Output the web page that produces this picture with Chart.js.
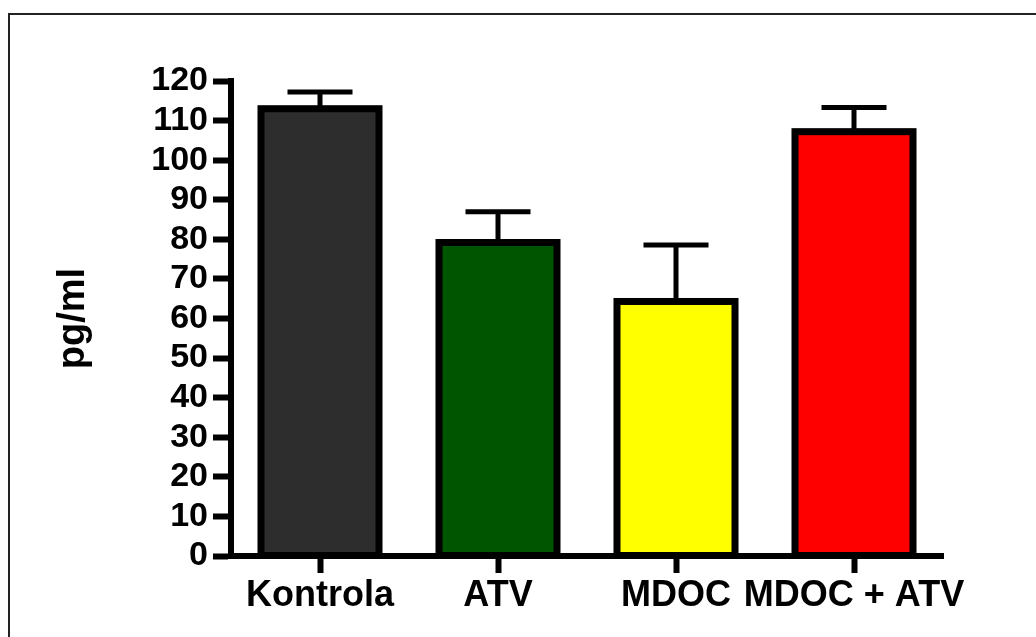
<!DOCTYPE html>
<html>
<head>
<meta charset="utf-8">
<script src="https://cdn.jsdelivr.net/npm/chart.js@4"></script>
<style>
  html, body { margin: 0; padding: 0; background: #fff; }
  #wrap { position: relative; width: 1036px; height: 637px; }
</style>
</head>
<body>
<div id="wrap"><canvas id="myChart" width="1036" height="637"></canvas></div>
<script>
// values (pg/ml, mean and error)
const categories = ['Kontrola', 'ATV', 'MDOC', 'MDOC + ATV'];
const means = [113, 79.2, 64.3, 107.2];
const errors = [4.2, 7.8, 14.3, 6.1];
const yMin = 0;
const yMax = 120;
const yStep = 10;
const barColors = ['#2d2d2d', '#005500', '#ffff00', '#ff0000'];

Chart.defaults.font.family = '"Liberation Sans", Arial, sans-serif';
Chart.defaults.color = '#000';

// outer frame (top and left edge of the figure)
const frame = {
  id: 'frame',
  beforeDraw(chart) {
    const c = chart.ctx;
    c.save();
    c.fillStyle = '#fff';
    c.fillRect(0, 0, chart.width, chart.height);
    c.strokeStyle = '#222';
    c.lineWidth = 2;
    c.beginPath();
    c.moveTo(9, chart.height);
    c.lineTo(9, 14);
    c.lineTo(chart.width, 14);
    c.stroke();
    c.restore();
  }
};

// thick black outline round each bar + error bars (mean + error)
const barDeco = {
  id: 'barDeco',
  afterDatasetsDraw(chart) {
    const c = chart.ctx;
    const meta = chart.getDatasetMeta(0);
    const yScale = chart.scales.y;
    c.save();
    c.strokeStyle = '#000';
    meta.data.forEach((bar, i) => {
      const top = yScale.getPixelForValue(means[i] + errors[i]);
      c.lineWidth = 5;
      c.beginPath();
      c.moveTo(bar.x, bar.y);
      c.lineTo(bar.x, top);
      c.moveTo(bar.x - 32.5, top);
      c.lineTo(bar.x + 32.5, top);
      c.stroke();
      c.lineWidth = 7;
      c.strokeRect(bar.x - bar.width / 2, bar.y, bar.width, bar.base - bar.y);
    });
    c.restore();
  }
};

const ctx = document.getElementById('myChart').getContext('2d');
const myChart = new Chart(ctx, {
  type: 'bar',
  data: {
    labels: categories,
    datasets: [{
      data: means,
      backgroundColor: barColors,
      borderWidth: 0,
      barPercentage: 0.663,
      categoryPercentage: 1
    }]
  },
  options: {
    responsive: false,
    animation: false,
    events: [],
    layout: { padding: { left: 40, top: 81, right: 93, bottom: 21 } },
    plugins: {
      legend: { display: false },
      tooltip: { enabled: false }
    },
    scales: {
      x: {
        offset: true,
        grid: {
          drawOnChartArea: false,
          offset: false,
          tickLength: 17,
          tickWidth: 6,
          tickColor: '#000'
        },
        border: { display: true, width: 6, color: '#000' },
        ticks: {
          color: '#000',
          font: { size: 36, weight: 'bold' },
          padding: 1,
          maxRotation: 0,
          autoSkip: false
        },
        afterFit: s => { s.height = 60; }
      },
      y: {
        min: yMin,
        max: yMax,
        grid: {
          drawOnChartArea: false,
          tickLength: 18,
          tickWidth: 6,
          tickColor: '#000'
        },
        border: { display: true, width: 6, color: '#000' },
        ticks: {
          stepSize: yStep,
          autoSkip: false,
          color: '#000',
          font: { size: 34, weight: 'bold' },
          padding: 5
        },
        title: {
          display: true,
          text: 'pg/ml',
          color: '#000',
          font: { size: 38, weight: 'bold' },
          padding: { top: 11, bottom: 0 }
        },
        afterFit: s => { s.width = 191; }
      }
    }
  },
  plugins: [frame, barDeco]
});
</script>
</body>
</html>
